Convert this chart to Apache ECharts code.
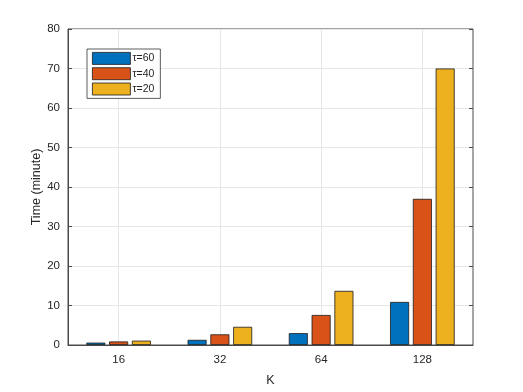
<!DOCTYPE html>
<html>
<head>
<meta charset="utf-8">
<script src="https://cdn.jsdelivr.net/npm/echarts@6/dist/echarts.min.js"></script>
<style>
html, body { margin: 0; padding: 0; background: #fff; }
#chart { width: 523px; height: 392px; }
</style>
</head>
<body>
<div id="chart"></div>
<script>
// 数据
var kLabels = ['16', '32', '64', '128'];
var tau60 = [0.6, 1.3, 3.0, 10.9];
var tau40 = [0.9, 2.7, 7.6, 37];
var tau20 = [1.1, 4.6, 13.7, 70];
var seriesNames = ['\u03c4=60', '\u03c4=40', '\u03c4=20'];
var yTicks = [0, 80, 10];

var fontName = 'Liberation Sans';
var axisColor = '#4a4a4a';
var textColor = '#262626';
var gridColor = '#e6e6e6';

var chart = echarts.init(document.getElementById('chart'));

function barSeries(name, data, color) {
    return {
        name: name,
        type: 'bar',
        data: data,
        barWidth: 19,
        barGap: '20%',
        z: 3,
        itemStyle: {
            color: color,
            borderColor: '#1a1a1a',
            borderWidth: 0.8
        }
    };
}

var option = {
    animation: false,
    backgroundColor: '#fff',
    textStyle: { fontFamily: fontName, color: textColor },
    grid: {
        left: 68,
        top: 29,
        right: 50,
        bottom: 43,
        show: true,
        borderColor: axisColor,
        borderWidth: 1,
        backgroundColor: '#fff'
    },
    legend: {
        left: 87,
        top: 49,
        orient: 'vertical',
        itemWidth: 38,
        itemHeight: 12,
        itemGap: 2.5,
        padding: [3, 6, 3, 5],
        backgroundColor: '#fff',
        borderColor: '#333',
        borderWidth: 0.8,
        icon: 'rect',
        itemStyle: { borderColor: '#1a1a1a', borderWidth: 0.8 },
        textStyle: { fontSize: 10.5, lineHeight: 12, color: textColor, fontFamily: fontName, padding: [0, 0, 0, -3] },
        data: seriesNames
    },
    xAxis: [{
        type: 'category',
        data: kLabels,
        name: 'K',
        nameLocation: 'middle',
        nameGap: 29,
        nameMoveOverlap: false,
        nameTextStyle: { fontSize: 12.5, color: textColor },
        axisLine: { lineStyle: { color: axisColor } },
        axisTick: { inside: true, alignWithLabel: true, length: 4, lineStyle: { color: axisColor } },
        axisLabel: { fontSize: 11.5, color: textColor, margin: 9 },
        splitLine: { show: false }
    }, {
        type: 'category',
        data: kLabels,
        position: 'top',
        axisLine: { show: false },
        axisTick: { inside: true, alignWithLabel: true, length: 4, lineStyle: { color: axisColor } },
        axisLabel: { show: false },
        splitLine: { show: false }
    }],
    yAxis: [{
        type: 'value',
        min: yTicks[0],
        max: yTicks[1],
        interval: yTicks[2],
        name: 'Time (minute)',
        nameLocation: 'middle',
        nameGap: 25,
        nameMoveOverlap: false,
        nameTextStyle: { fontSize: 12.5, color: textColor },
        axisLine: { show: true, lineStyle: { color: axisColor } },
        axisTick: { show: true, inside: true, length: 4, lineStyle: { color: axisColor } },
        axisLabel: { fontSize: 11.5, color: textColor, margin: 8 },
        splitLine: { show: true, lineStyle: { color: gridColor, width: 1 } }
    }, {
        type: 'value',
        min: yTicks[0],
        max: yTicks[1],
        interval: yTicks[2],
        position: 'right',
        axisLine: { show: false },
        axisTick: { show: true, inside: true, length: 4, lineStyle: { color: axisColor } },
        axisLabel: { show: false },
        splitLine: { show: false }
    }],
    series: [
        // 竖向网格线
        {
            type: 'line',
            data: [],
            z: 1,
            silent: true,
            markLine: {
                silent: true,
                z: 1,
                symbol: 'none',
                label: { show: false },
                lineStyle: { color: gridColor, type: 'solid', width: 1 },
                data: kLabels.map(function (k) { return { xAxis: k }; })
            }
        },
        barSeries(seriesNames[0], tau60, '#0072BD'),
        barSeries(seriesNames[1], tau40, '#D95319'),
        barSeries(seriesNames[2], tau20, '#EDB120')
    ]
};

chart.setOption(option);
</script>
</body>
</html>
